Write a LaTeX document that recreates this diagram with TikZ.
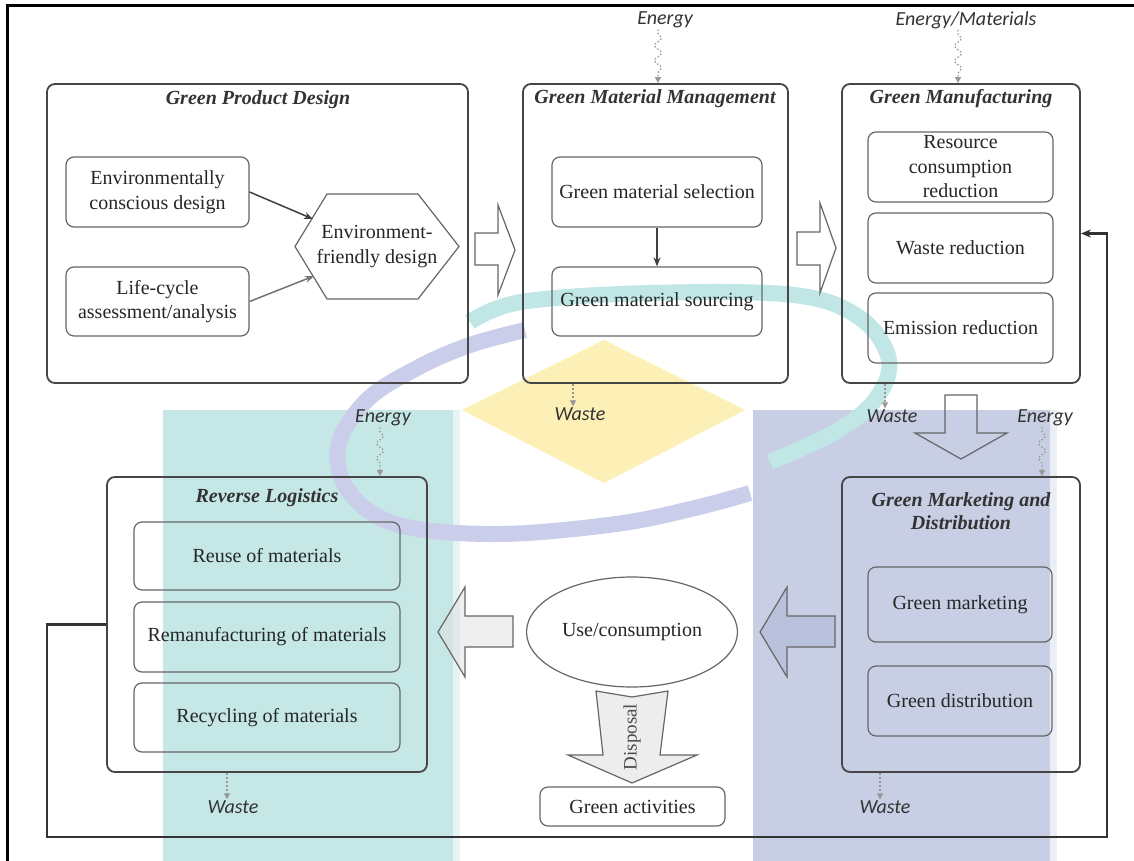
\documentclass[tikz,border=0pt]{standalone}
\usepackage{fontspec}
\setmainfont{Liberation Serif}
\newfontfamily\lblfamily{Carlito}
\usetikzlibrary{arrows.meta,shapes.geometric,decorations.pathmorphing}
\definecolor{wmteal}{RGB}{197,232,230}
\definecolor{wmteallt}{RGB}{230,244,243}
\definecolor{wmblue}{RGB}{200,207,228}
\definecolor{wmbluelt}{RGB}{236,238,245}
\definecolor{wmyellow}{RGB}{252,240,182}
\definecolor{ringteal}{RGB}{192,231,229}
\definecolor{ringpurple}{RGB}{202,206,234}
\definecolor{arrowblue}{RGB}{186,193,221}
\definecolor{lineg}{RGB}{70,70,70}
\newcommand\mybody{\fontsize{20}{24.5}\selectfont}
\newcommand\mytitle{\fontsize{20}{23}\selectfont\bfseries\itshape}
\newcommand\mylbl{\lblfamily\itshape\fontsize{20}{22}\selectfont}
\newcommand\mydisp{\fontsize{19}{22}\selectfont}
\begin{document}
\begin{tikzpicture}[x=1pt,y=-1pt,
  outerbox/.style={draw=lineg, line width=1.8pt, rounded corners=8pt},
  innerbox/.style={draw=black!60, line width=1.2pt, rounded corners=8pt, align=center, font=\mybody, text=black!85, inner ysep=0pt, inner xsep=2pt},
  ttl/.style={font=\mytitle, align=center, text=black!80, inner sep=0pt},
  lbl/.style={font=\mylbl, text=black!80, inner sep=1pt},
  flow/.style={draw=black!75, line width=1.5pt, -{Stealth[length=9pt,width=7pt]}},
  blockarrow/.style={draw=black!60, line width=1.2pt, fill=white, line join=miter},
  energyin/.style={draw=black!40, line width=1.3pt, dash pattern=on 1.5pt off 2pt, decorate, decoration={snake, amplitude=3.5pt, segment length=15pt, pre length=4pt, post length=8pt}, -{Triangle[length=6pt,width=6pt]}},
  wasteout/.style={draw=black!40, line width=1.2pt, dash pattern=on 2pt off 2pt, -{Triangle[length=6pt,width=6pt]}},
  loopline/.style={draw=black!80, line width=2.2pt, -{Stealth[length=10pt,width=8pt]}},
]
\useasboundingbox (0,0) rectangle (1134,861);
\fill[white] (0,0) rectangle (1134,861);
% watermark
\fill[wmteal] (163,410) rectangle (453,861);
\fill[wmteallt] (453,410) rectangle (460,861);
\fill[wmblue] (753,410) rectangle (1050,861);
\fill[wmbluelt] (1050,410) rectangle (1057,861);
\fill[wmyellow] (604,340) -- (745,410) -- (604,483) -- (462,410) -- cycle;
\draw[ringteal, line width=16pt] plot[smooth, tension=0.6] coordinates {(470,322) (521,302) (650,293) (794,295) (860,318) (889,360) (875,400) (835,432) (770,462)};
\draw[ringpurple, line width=16pt] plot[smooth, tension=0.6] coordinates {(525,330) (470,345) (419,367) (367,400) (338,447) (350,493) (399,525) (498,534) (616,524) (695,508) (750,493)};
% frame
\draw[line width=3pt, black] (7,861) -- (7,6) -- (1134,6);

% Green Product Design
\node[outerbox, minimum width=421pt, minimum height=299pt] (gpd) at (257.5,233.5) {};
\node[ttl] (gpdT) at (258,100) {Green Product Design};
\node[innerbox, minimum width=183pt, minimum height=70pt] (ecd) at (157.5,192) {Environmentally\\conscious design};
\node[innerbox, minimum width=183pt, minimum height=69pt] (lca) at (157.5,301.5) {Life-cycle\\assessment/analysis};
\draw[draw=black!60, line width=1.2pt] (295,246.5) -- (327,194) -- (418,194) -- (459,246.5) -- (418,299) -- (327,299) -- cycle;
\node[font=\mybody, align=center, inner sep=0pt, text=black!85] (hex) at (377,246.5) {Environment-\\friendly design};
\coordinate (hxA) at (313,219);
\coordinate (hxB) at (314,276);
\draw[flow] (ecd.east) -- (hxA);
\draw[flow, draw=black!55] (lca.east) -- (hxB);

% Green Material Management
\node[outerbox, minimum width=265pt, minimum height=299pt] (gmm) at (655.5,233.5) {};
\node[ttl] (gmmT) at (655,99) {Green Material Management};
\node[innerbox, minimum width=210pt, minimum height=70pt] (sel) at (657,192) {Green material selection};
\node[innerbox, minimum width=210pt, minimum height=69pt] (src) at (657,301.5) {Green material sourcing};
\draw[flow] (sel) -- (src);

% Green Manufacturing
\node[outerbox, minimum width=238pt, minimum height=299pt] (gmf) at (961,233.5) {};
\node[ttl] (gmfT) at (961,99) {Green Manufacturing};
\node[innerbox, minimum width=185pt, minimum height=70pt] (res) at (960.5,167) {Resource\\consumption\\reduction};
\node[innerbox, minimum width=185pt, minimum height=70pt] (wred) at (960.5,248) {Waste reduction};
\node[innerbox, minimum width=185pt, minimum height=70pt] (emi) at (960.5,328) {Emission reduction};

% block arrows
\draw[blockarrow] (475,233) -- (498,233) -- (498,205) -- (515,250) -- (498,295) -- (498,265) -- (475,265) -- cycle;
\draw[blockarrow] (797,232) -- (820,232) -- (820,203) -- (836,248) -- (820,293) -- (820,265) -- (797,265) -- cycle;
\draw[blockarrow, fill=none] (945,395) -- (977,395) -- (977,433) -- (1007,433) -- (961,459) -- (915,433) -- (945,433) -- cycle;
\draw[blockarrow, fill=arrowblue] (835,616) -- (787,616) -- (787,587) -- (760,632) -- (787,677) -- (787,647) -- (835,647) -- cycle;
\draw[blockarrow, fill=black!12, fill opacity=0.5] (513,616) -- (465,616) -- (465,587) -- (438,632) -- (465,677) -- (465,647) -- (513,647) -- cycle;

% Reverse Logistics
\node[outerbox, minimum width=320pt, minimum height=295pt] (rl) at (267,624.5) {};
\node[ttl] (rlT) at (267,498) {Reverse Logistics};
\node[innerbox, minimum width=266pt, minimum height=68pt] (reuse) at (267,556) {Reuse of materials};
\node[innerbox, minimum width=266pt, minimum height=70pt] (reman) at (267,637) {Remanufacturing of materials};
\node[innerbox, minimum width=266pt, minimum height=69pt] (recyc) at (267,717.5) {Recycling of materials};

% Green Marketing and Distribution
\node[outerbox, minimum width=238pt, minimum height=295pt] (gmd) at (961,624.5) {};
\node[ttl] (gmdT) at (961,511) {Green Marketing and\\Distribution};
\node[innerbox, minimum width=184pt, minimum height=75pt] (gmk) at (960,604.5) {Green marketing};
\node[innerbox, minimum width=184pt, minimum height=70pt] (gdi) at (960,701) {Green distribution};

% use / disposal
\node[ellipse, draw=black!60, line width=1.2pt, minimum width=211pt, minimum height=110pt, font=\mybody, text=black!85] (use) at (632,632) {Use/consumption};
\draw[blockarrow, fill=black!7] (596,691) -- (632,697) -- (668,691) -- (660,755) -- (697,755) -- (632,783) -- (568,755) -- (603,755) -- cycle;
\node[rotate=90, font=\mydisp, text=black!70, inner sep=0pt] (disp) at (632,737) {Disposal};
\node[innerbox, minimum width=185pt, minimum height=39pt] (act) at (632.5,806.5) {Green activities};

% energy / waste labels
\node[lbl] (en1) at (665,20) {Energy};
\node[lbl] (en2) at (966,20) {Energy/Materials};
\node[lbl] (en3) at (383,418) {Energy};
\node[lbl] (en4) at (1045,418) {Energy};
\node[lbl] (ws1) at (580,414) {Waste};
\node[lbl] (ws2) at (892,416) {Waste};
\node[lbl] (ws3) at (233,807) {Waste};
\node[lbl] (ws4) at (885,807) {Waste};
\draw[energyin] ([xshift=-7pt]en1.south) -- ([xshift=-7pt]en1.south |- gmm.north);
\draw[energyin] ([xshift=-8pt]en2.south) -- ([xshift=-8pt]en2.south |- gmf.north);
\draw[energyin] ([xshift=-3pt]en3.south) -- ([xshift=-3pt]en3.south |- rl.north);
\draw[energyin] ([xshift=-3pt]en4.south) -- ([xshift=-3pt]en4.south |- gmd.north);
\draw[wasteout] ([xshift=-7pt]ws1.north |- gmm.south) -- ([xshift=-7pt]ws1.north);
\draw[wasteout] ([xshift=-7pt]ws2.north |- gmf.south) -- ([xshift=-7pt]ws2.north);
\draw[wasteout] ([xshift=-6pt]ws3.north |- rl.south) -- ([xshift=-6pt]ws3.north);
\draw[wasteout] ([xshift=-5pt]ws4.north |- gmd.south) -- ([xshift=-5pt]ws4.north);

% feedback loop
\coordinate (lp1) at (47,837);
\coordinate (lp2) at (1107,837);
\draw[loopline] (rl.west) -| (lp1) -- (lp2) |- (gmf.east);
\end{tikzpicture}
\end{document}
